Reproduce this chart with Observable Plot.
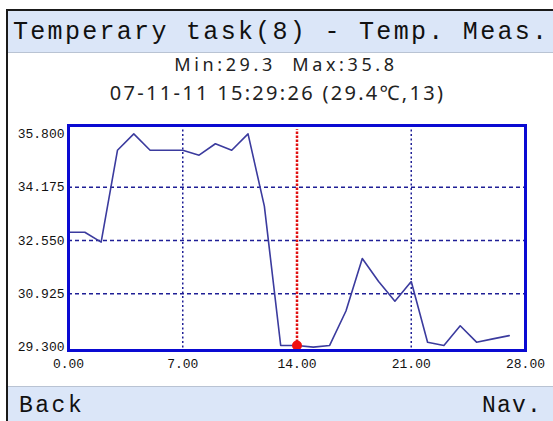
<!DOCTYPE html>
<html>
<head>
<meta charset="utf-8">
<script src="https://cdn.jsdelivr.net/npm/d3@7"></script>
<script src="https://cdn.jsdelivr.net/npm/@observablehq/plot@0.6"></script>
<style>
  html, body { margin: 0; padding: 0; background: #fff; }
  #screen { position: relative; width: 553px; height: 421px; overflow: hidden; background: #fff; }
  .abs { position: absolute; }
  .mono { font-family: "Liberation Mono", "DejaVu Sans Mono", monospace; color: #111; white-space: pre; }
  .sans { font-family: "Noto Sans", "Liberation Sans", sans-serif; color: #222; white-space: pre; }
</style>
</head>
<body>
<div id="screen">
  <div class="abs" style="left:6px;top:9px;width:547px;height:2px;background:#1a1a1a;"></div>
  <div class="abs" style="left:6px;top:9px;width:2px;height:412px;background:#1a1a1a;"></div>
  <div class="abs" style="left:8px;top:11px;width:545px;height:41px;background:#dbe6f8;border-bottom:1px solid #b9c3d3;"></div>
  <div class="abs mono" id="title" style="left:13px;top:18px;font-size:25px;line-height:30px;letter-spacing:2.3px;"></div>
  <div class="abs sans" id="sub1" style="left:0;width:572px;text-align:center;top:52px;font-size:18px;line-height:24px;letter-spacing:3.6px;"></div>
  <div class="abs sans" id="sub2" style="left:0;width:555px;text-align:center;top:80px;font-size:20px;line-height:26px;letter-spacing:2.3px;"></div>
  <div class="abs" id="chart" style="left:0;top:110px;"></div>
  <div class="abs" style="left:8px;top:386px;width:545px;height:35px;background:#dbe6f8;border-top:1px solid #b9c3d3;"></div>
  <div class="abs mono" id="back" style="left:19px;top:395px;font-size:23px;line-height:22px;letter-spacing:2.5px;"></div>
  <div class="abs mono" id="nav" style="right:11px;top:395px;font-size:23px;line-height:22px;letter-spacing:1.2px;"></div>
</div>
<script>
// ---- texts ----
const titleText = "Temperary task(8) - Temp. Meas.";
const minMaxText = "Min:29.3  Max:35.8";
const cursorText = "07-11-11 15:29:26 (29.4\u2103,13)";
const leftButton = "Back";
const rightButton = "Nav.";

// ---- data ----
const sampleIndex = [0,1,2,3,4,5,6,7,8,9,10,11,12,13,14,15,16,17,18,19,20,21,22,23,24,25,26,27];
const temperature = [32.8,32.8,32.5,35.3,35.8,35.3,35.3,35.3,35.15,35.5,35.3,35.8,33.6,29.35,29.35,29.3,29.35,30.4,32.0,31.3,30.7,31.3,29.45,29.35,29.95,29.45,29.55,29.65];
const yTicks = [29.3, 30.925, 32.55, 34.175, 35.8];
const yGrid = [30.925, 32.55, 34.175];
const xTicks = [0, 7, 14, 21, 28];
const xGrid = [7, 21];
const cursorX = [14];
const cursorPoint = [{x: 14, y: 29.35}];
const cursorTop = 35.93;
const xDomain = [0, 28];
const yDomain = [29.196, 36.056];

document.getElementById("title").textContent = titleText;
document.getElementById("sub1").textContent = minMaxText;
document.getElementById("sub2").textContent = cursorText;
document.getElementById("back").textContent = leftButton;
document.getElementById("nav").textContent = rightButton;

const data = sampleIndex.map((x, i) => ({x, y: temperature[i]}));

const chart = Plot.plot({
  width: 553,
  height: 275,
  marginTop: 15,
  marginBottom: 35,
  marginLeft: 68,
  marginRight: 28,
  style: {background: "transparent", fontFamily: "'Liberation Mono', 'DejaVu Sans Mono', monospace", fontSize: "13px", color: "#111"},
  x: {domain: xDomain, ticks: xTicks, tickFormat: d => d.toFixed(2), tickSize: 0, tickPadding: 8, label: null},
  y: {domain: yDomain, ticks: yTicks, tickFormat: d => d.toFixed(3), tickSize: 0, tickPadding: 4, label: null},
  marks: [
    Plot.ruleY(yGrid, {stroke: "#1f1f96", strokeWidth: 1.5, strokeDasharray: "4,3"}),
    Plot.ruleX(xGrid, {stroke: "#1f1f96", strokeWidth: 1.5, strokeDasharray: "2,2.5"}),
    Plot.line(data, {x: "x", y: "y", stroke: "#3b3b9e", strokeWidth: 1.6}),
    Plot.ruleX(cursorX, {y1: yDomain[0], y2: cursorTop, stroke: "#e01010", strokeWidth: 2.5, strokeDasharray: "2.5,1.5"}),
    Plot.dot(cursorPoint, {x: "x", y: "y", r: 5, fill: "#f01010", stroke: "none"}),
    Plot.frame({stroke: "#0a0ad2", strokeWidth: 3})
  ]
});
document.getElementById("chart").appendChild(chart);
</script>
</body>
</html>
